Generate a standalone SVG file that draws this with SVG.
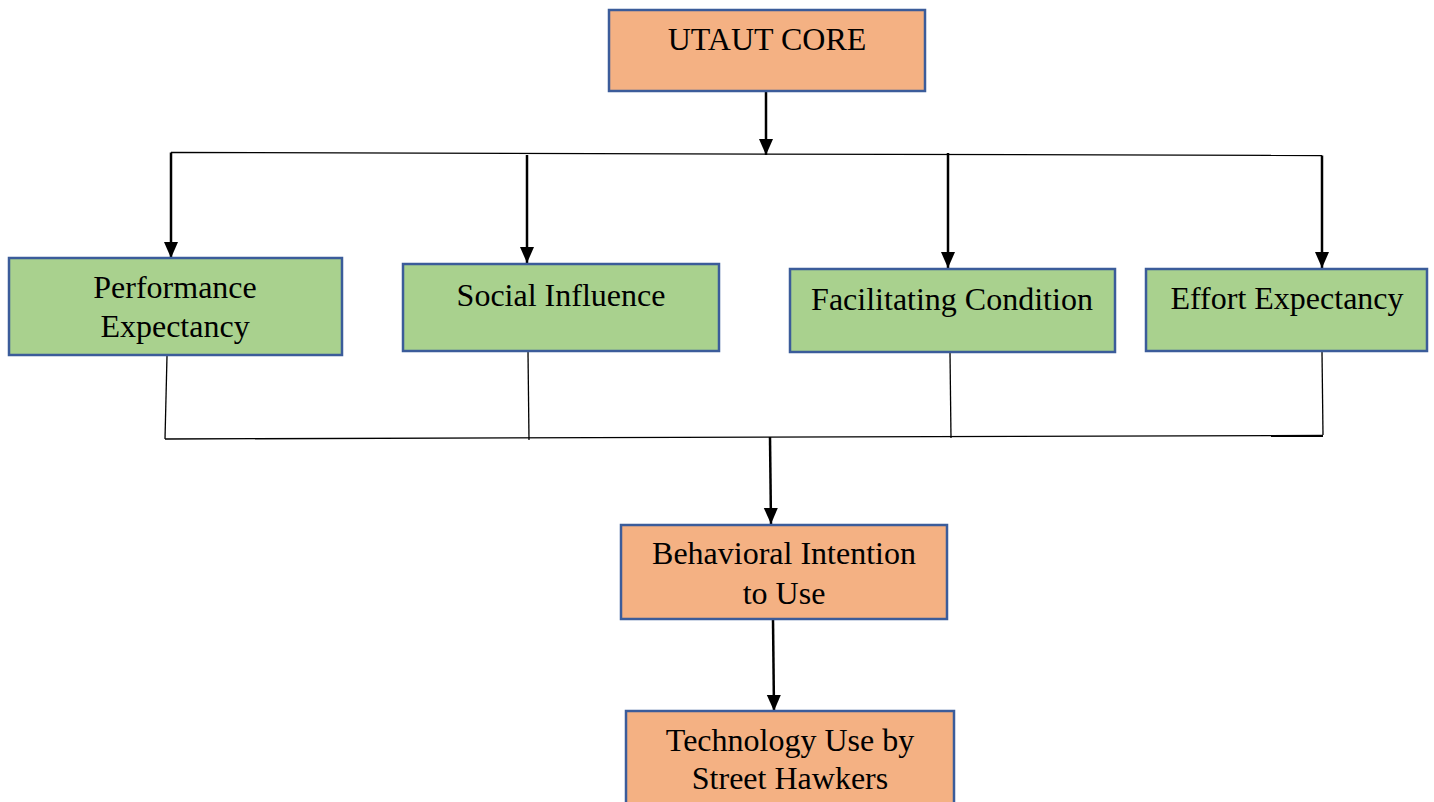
<svg xmlns="http://www.w3.org/2000/svg" width="1434" height="802" viewBox="0 0 1434 802">
<style>
  .box { stroke: #3B5C9A; stroke-width: 2.5; }
  .orange { fill: #F4B183; }
  .green { fill: #A9D18E; }
  .t { font-family: "Liberation Serif", "Times New Roman", serif; font-size: 32px; fill: #000; text-anchor: middle; }
  .thin { stroke: #000; stroke-width: 1.3; fill: none; }
  .arr { stroke: #000; stroke-width: 2.5; fill: none; marker-end: url(#ah); }
</style>
<defs>
  <marker id="ah" markerUnits="userSpaceOnUse" markerWidth="16" markerHeight="16" viewBox="0 0 16 16" refX="16" refY="8" orient="auto">
    <path d="M0,1 L16,8 L0,15 Z" fill="#000"/>
  </marker>
</defs>
<rect width="1434" height="802" fill="#fff"/>
<g id="connectors">
  <line class="arr" x1="766" y1="91" x2="766" y2="155"/>
  <line class="thin" x1="171" y1="152.5" x2="1322" y2="155.5"/>
  <line class="arr" x1="171" y1="152.5" x2="171" y2="258"/>
  <line class="arr" x1="527" y1="155" x2="527" y2="263"/>
  <line class="arr" x1="948" y1="153" x2="948" y2="268"/>
  <line class="arr" x1="1322" y1="155.5" x2="1322" y2="268"/>
  <line class="thin" x1="167" y1="356" x2="165" y2="439"/>
  <line class="thin" x1="528" y1="352" x2="529" y2="440"/>
  <line class="thin" x1="950" y1="353" x2="951" y2="438"/>
  <line class="thin" x1="1322" y1="352" x2="1323" y2="435"/>
  <line class="thin" x1="165" y1="439" x2="1323" y2="435.5"/>
  <line class="arr" x1="770" y1="437" x2="771" y2="524"/>
  <line class="arr" x1="773" y1="620" x2="774" y2="711"/>
</g>
<g id="utaut-core">
  <rect class="box orange" x="609" y="10" width="316" height="81"/>
  <text class="t" x="767" y="50">UTAUT CORE</text>
</g>
<g id="performance-expectancy">
  <rect class="box green" x="9" y="258" width="333" height="97"/>
  <text class="t" x="175" y="298">Performance</text>
  <text class="t" x="175" y="337">Expectancy</text>
</g>
<g id="social-influence">
  <rect class="box green" x="403" y="264" width="316" height="87"/>
  <text class="t" x="561" y="306">Social Influence</text>
</g>
<g id="facilitating-condition">
  <rect class="box green" x="790" y="269" width="325" height="83"/>
  <text class="t" x="952" y="310">Facilitating Condition</text>
</g>
<g id="effort-expectancy">
  <rect class="box green" x="1146" y="269" width="281" height="82"/>
  <text class="t" x="1287" y="309">Effort Expectancy</text>
</g>
<g id="behavioral-intention">
  <rect class="box orange" x="621" y="525" width="326" height="94"/>
  <text class="t" x="784" y="564">Behavioral Intention</text>
  <text class="t" x="784" y="604">to Use</text>
</g>
<g id="technology-use">
  <rect class="box orange" x="626" y="711" width="328" height="100"/>
  <text class="t" x="790" y="751">Technology Use by</text>
  <text class="t" x="790" y="789">Street Hawkers</text>
</g>
</svg>
